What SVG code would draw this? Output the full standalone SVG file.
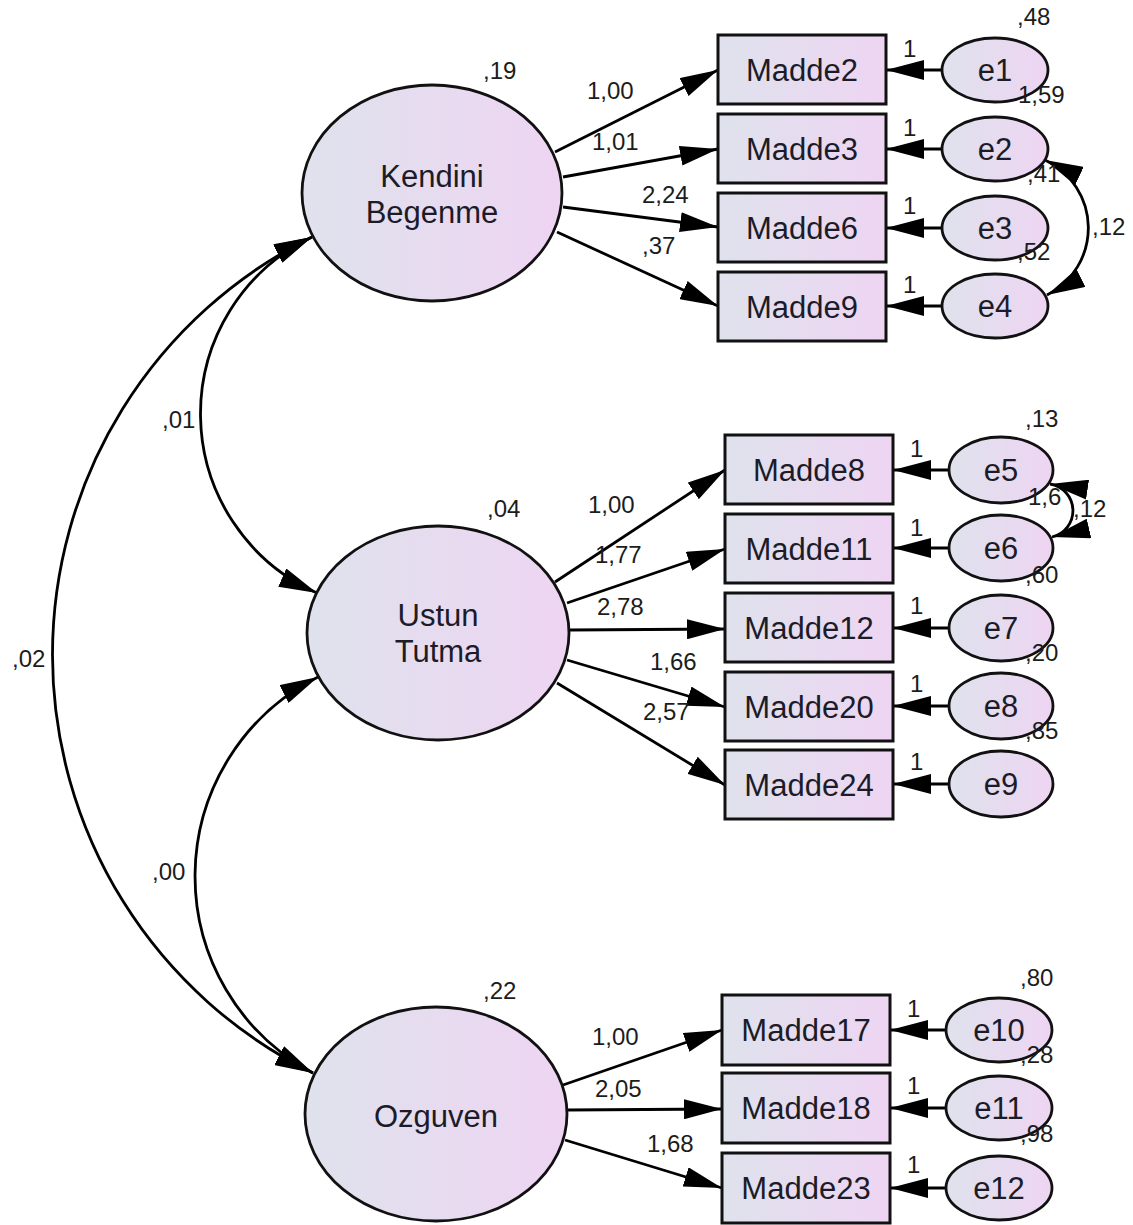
<svg xmlns="http://www.w3.org/2000/svg" width="1133" height="1225" viewBox="0 0 1133 1225">
<defs>
<linearGradient id="g" x1="0" y1="0" x2="1" y2="0">
<stop offset="0" stop-color="#dfe2ed"/>
<stop offset="1" stop-color="#eed5f2"/>
</linearGradient>
<marker id="ah" markerUnits="userSpaceOnUse" markerWidth="38" markerHeight="20" refX="38" refY="10" orient="auto-start-reverse" viewBox="0 0 38 20">
<path d="M0,0 L38,10 L0,20 z" fill="#000"/>
</marker>
<style>
.obs{fill:url(#g);stroke:#111;stroke-width:3}
.lat{fill:url(#g);stroke:#111;stroke-width:2.8}
.nm{font-family:"Liberation Sans",Arial,sans-serif;font-size:31px;fill:#1c1c28;text-anchor:middle}
.lb{font-family:"Liberation Sans",Arial,sans-serif;font-size:24px;fill:#1c1c1c}
.ln{fill:none;stroke:#000;stroke-width:2.8}
.ar{marker-end:url(#ah)}
.cv{marker-start:url(#ah);marker-end:url(#ah)}
</style>
</defs>
<rect width="1133" height="1225" fill="#fff"/>

<g id="connectors">
<line class="ln ar" x1="555" y1="152" x2="718" y2="70"/>
<line class="ln ar" x1="563" y1="177" x2="718" y2="149"/>
<line class="ln ar" x1="563" y1="207" x2="718" y2="227"/>
<line class="ln ar" x1="557" y1="232" x2="718" y2="306"/>

<line class="ln ar" x1="555" y1="582" x2="725" y2="470"/>
<line class="ln ar" x1="567" y1="603" x2="725" y2="549"/>
<line class="ln ar" x1="570" y1="630" x2="725" y2="629"/>
<line class="ln ar" x1="567" y1="660" x2="725" y2="707"/>
<line class="ln ar" x1="557" y1="683" x2="725" y2="785"/>

<line class="ln ar" x1="563" y1="1085" x2="722" y2="1030"/>
<line class="ln ar" x1="567" y1="1110" x2="722" y2="1109"/>
<line class="ln ar" x1="565" y1="1140" x2="722" y2="1188"/>

<line class="ln ar" x1="942" y1="70" x2="886" y2="70"/>
<line class="ln ar" x1="942" y1="149" x2="886" y2="149"/>
<line class="ln ar" x1="942" y1="228" x2="886" y2="228"/>
<line class="ln ar" x1="942" y1="306" x2="886" y2="306"/>

<line class="ln ar" x1="949" y1="470" x2="893" y2="470"/>
<line class="ln ar" x1="949" y1="548" x2="893" y2="548"/>
<line class="ln ar" x1="949" y1="628" x2="893" y2="628"/>
<line class="ln ar" x1="949" y1="706" x2="893" y2="706"/>
<line class="ln ar" x1="949" y1="784" x2="893" y2="784"/>

<line class="ln ar" x1="946" y1="1030" x2="890" y2="1030"/>
<line class="ln ar" x1="946" y1="1108" x2="890" y2="1108"/>
<line class="ln ar" x1="946" y1="1188" x2="890" y2="1188"/>

<path class="ln cv" d="M312,237 A196,196 0 0 0 317,593"/>
<path class="ln cv" d="M312,237 A466,466 0 0 0 313,1073"/>
<path class="ln cv" d="M318,677 A223,223 0 0 0 313,1073"/>
<path class="ln cv" d="M1045,160 A75,75 0 0 1 1047,295"/>
<path class="ln cv" d="M1050,484 A27,27 0 0 1 1052,537"/>
</g>

<g id="KendiniBegenme">
<ellipse class="lat" cx="432" cy="193" rx="130" ry="108"/>
<text class="nm" x="432" y="187">Kendini</text>
<text class="nm" x="432" y="223">Begenme</text>
<text class="lb" x="483" y="79">,19</text>
</g>
<g id="UstunTutma">
<ellipse class="lat" cx="438" cy="633" rx="131" ry="107"/>
<text class="nm" x="438" y="626">Ustun</text>
<text class="nm" x="438" y="662">Tutma</text>
<text class="lb" x="487" y="517">,04</text>
</g>
<g id="Ozguven">
<ellipse class="lat" cx="436" cy="1114" rx="131" ry="107"/>
<text class="nm" x="436" y="1127">Ozguven</text>
<text class="lb" x="483" y="999">,22</text>
</g>

<g id="Madde2"><rect class="obs" x="718" y="35" width="168" height="69"/><text class="nm" x="802" y="81">Madde2</text></g>
<g id="Madde3"><rect class="obs" x="718" y="114" width="168" height="69"/><text class="nm" x="802" y="160">Madde3</text></g>
<g id="Madde6"><rect class="obs" x="718" y="193" width="168" height="69"/><text class="nm" x="802" y="239">Madde6</text></g>
<g id="Madde9"><rect class="obs" x="718" y="272" width="168" height="69"/><text class="nm" x="802" y="318">Madde9</text></g>

<g id="Madde8"><rect class="obs" x="725" y="435" width="168" height="69"/><text class="nm" x="809" y="481">Madde8</text></g>
<g id="Madde11"><rect class="obs" x="725" y="514" width="168" height="69"/><text class="nm" x="809" y="560">Madde11</text></g>
<g id="Madde12"><rect class="obs" x="725" y="593" width="168" height="69"/><text class="nm" x="809" y="639">Madde12</text></g>
<g id="Madde20"><rect class="obs" x="725" y="672" width="168" height="69"/><text class="nm" x="809" y="718">Madde20</text></g>
<g id="Madde24"><rect class="obs" x="725" y="750" width="168" height="69"/><text class="nm" x="809" y="796">Madde24</text></g>

<g id="Madde17"><rect class="obs" x="722" y="995" width="168" height="70"/><text class="nm" x="806" y="1041">Madde17</text></g>
<g id="Madde18"><rect class="obs" x="722" y="1073" width="168" height="70"/><text class="nm" x="806" y="1119">Madde18</text></g>
<g id="Madde23"><rect class="obs" x="722" y="1153" width="168" height="70"/><text class="nm" x="806" y="1199">Madde23</text></g>

<g id="e1"><ellipse class="lat" cx="995" cy="70" rx="53" ry="32"/><text class="nm" x="995" y="81">e1</text><text class="lb" x="1017" y="25">,48</text></g>
<g id="e2"><ellipse class="lat" cx="995" cy="149" rx="53" ry="32"/><text class="nm" x="995" y="160">e2</text><text class="lb" x="1018" y="103">1,59</text></g>
<g id="e3"><ellipse class="lat" cx="995" cy="228" rx="53" ry="32"/><text class="nm" x="995" y="239">e3</text><text class="lb" x="1027" y="182">,41</text></g>
<g id="e4"><ellipse class="lat" cx="995" cy="306" rx="53" ry="32"/><text class="nm" x="995" y="317">e4</text><text class="lb" x="1017" y="260">,52</text></g>

<g id="e5"><ellipse class="lat" cx="1001" cy="470" rx="52" ry="33"/><text class="nm" x="1001" y="481">e5</text><text class="lb" x="1025" y="427">,13</text></g>
<g id="e6"><ellipse class="lat" cx="1001" cy="548" rx="52" ry="33"/><text class="nm" x="1001" y="559">e6</text><text class="lb" x="1028" y="505">1,6</text></g>
<g id="e7"><ellipse class="lat" cx="1001" cy="628" rx="52" ry="33"/><text class="nm" x="1001" y="639">e7</text><text class="lb" x="1025" y="583">,60</text></g>
<g id="e8"><ellipse class="lat" cx="1001" cy="706" rx="52" ry="33"/><text class="nm" x="1001" y="717">e8</text><text class="lb" x="1025" y="661">,20</text></g>
<g id="e9"><ellipse class="lat" cx="1001" cy="784" rx="52" ry="33"/><text class="nm" x="1001" y="795">e9</text><text class="lb" x="1025" y="739">,85</text></g>

<g id="e10"><ellipse class="lat" cx="999" cy="1030" rx="53" ry="32"/><text class="nm" x="999" y="1041">e10</text><text class="lb" x="1020" y="986">,80</text></g>
<g id="e11"><ellipse class="lat" cx="999" cy="1108" rx="53" ry="32"/><text class="nm" x="999" y="1119">e11</text><text class="lb" x="1020" y="1063">,28</text></g>
<g id="e12"><ellipse class="lat" cx="999" cy="1188" rx="53" ry="32"/><text class="nm" x="999" y="1199">e12</text><text class="lb" x="1020" y="1142">,98</text></g>

<g id="labels">
<text class="lb" x="587" y="99">1,00</text>
<text class="lb" x="592" y="150">1,01</text>
<text class="lb" x="642" y="203">2,24</text>
<text class="lb" x="642" y="254">,37</text>
<text class="lb" x="588" y="513">1,00</text>
<text class="lb" x="595" y="563">1,77</text>
<text class="lb" x="597" y="615">2,78</text>
<text class="lb" x="650" y="670">1,66</text>
<text class="lb" x="643" y="720">2,57</text>
<text class="lb" x="592" y="1045">1,00</text>
<text class="lb" x="595" y="1097">2,05</text>
<text class="lb" x="647" y="1152">1,68</text>
<text class="lb" x="903" y="57">1</text>
<text class="lb" x="903" y="136">1</text>
<text class="lb" x="903" y="214">1</text>
<text class="lb" x="903" y="293">1</text>
<text class="lb" x="910" y="457">1</text>
<text class="lb" x="910" y="536">1</text>
<text class="lb" x="910" y="614">1</text>
<text class="lb" x="910" y="692">1</text>
<text class="lb" x="910" y="770">1</text>
<text class="lb" x="907" y="1017">1</text>
<text class="lb" x="907" y="1094">1</text>
<text class="lb" x="907" y="1173">1</text>
<text class="lb" x="1092" y="235">,12</text>
<text class="lb" x="1073" y="517">,12</text>
<text class="lb" x="162" y="428">,01</text>
<text class="lb" x="12" y="667">,02</text>
<text class="lb" x="152" y="880">,00</text>
</g>
</svg>
